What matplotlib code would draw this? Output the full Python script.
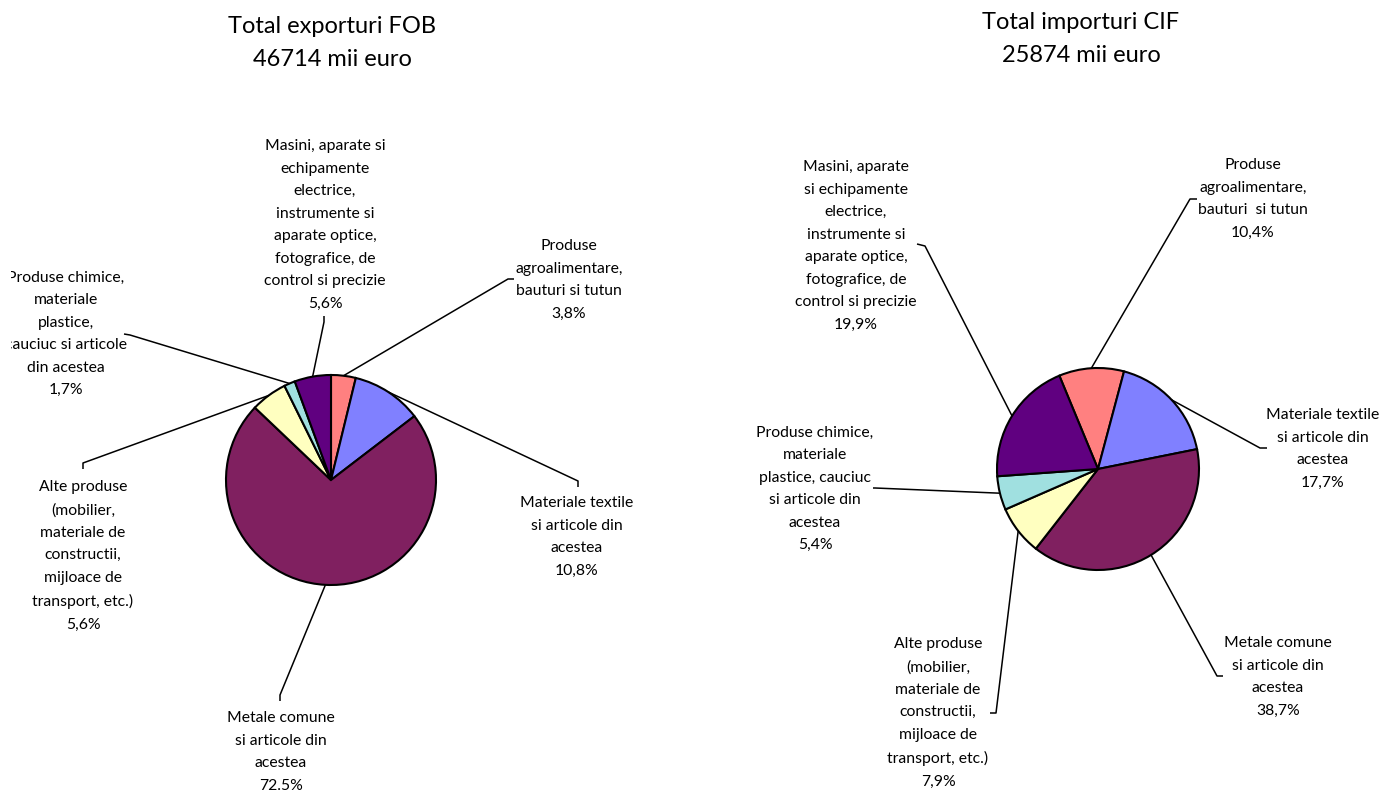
import matplotlib
matplotlib.use("Agg")
import matplotlib.pyplot as plt
import numpy as np

# shares in percent, same order for both pies
categories = ["agro", "textile", "metale", "alte", "chimice", "masini"]
export_share = [3.8, 10.8, 72.5, 5.6, 1.7, 5.6]
import_share = [10.4, 17.7, 38.7, 7.9, 5.4, 19.9]

export_names = [
    "Produse\nagroalimentare,\nbauturi si tutun",
    "Materiale textile\nsi articole din\nacestea",
    "Metale comune\nsi articole din\nacestea",
    "Alte produse\n(mobilier,\nmateriale de\nconstructii,\nmijloace de\ntransport, etc.)",
    "Produse chimice,\nmateriale\nplastice,\ncauciuc si articole\ndin acestea",
    "Masini, aparate si\nechipamente\nelectrice,\ninstrumente si\naparate optice,\nfotografice, de\ncontrol si precizie",
]
import_names = [
    "Produse\nagroalimentare,\nbauturi  si tutun",
    "Materiale textile\nsi articole din\nacestea",
    "Metale comune\nsi articole din\nacestea",
    "Alte produse\n(mobilier,\nmateriale de\nconstructii,\nmijloace de\ntransport, etc.)",
    "Produse chimice,\nmateriale\nplastice, cauciuc\nsi articole din\nacestea",
    "Masini, aparate\nsi echipamente\nelectrice,\ninstrumente si\naparate optice,\nfotografice, de\ncontrol si precizie",
]
export_pct = ["3,8%", "10,8%", "72.5%", "5,6%", "1,7%", "5,6%"]
import_pct = ["10,4%", "17,7%", "38,7%", "7,9%", "5,4%", "19,9%"]

export_title = "Total exporturi FOB\n46714 mii euro"
import_title = "Total importuri CIF\n25874 mii euro"

colors = ["#FF8080", "#8080FF", "#802060", "#FFFFC0", "#A0E0E0", "#600080"]

W, H = 1382, 791
FONT = "Lato"


def Y(y):
    return H - y


fig = plt.figure(figsize=(W / 100, H / 100), dpi=100)
left = 11
ax = fig.add_axes([left / W, 0, (W - left) / W, 1])


def draw_pie(values, names, pcts, center, radius, start, title, title_pos, labels):
    wedges, _ = ax.pie(values, colors=colors, startangle=start, counterclock=False,
                       center=(center[0], Y(center[1])), radius=radius,
                       wedgeprops=dict(edgecolor="black", linewidth=1.5))
    ax.text(title_pos[0], Y(title_pos[1]), title, ha="center", va="center",
            fontsize=17, family=FONT, linespacing=1.66)
    for w, name, pct, lab in zip(wedges, names, pcts, labels):
        tx, ty, elbow, tick = lab
        mid = np.deg2rad((w.theta1 + w.theta2) / 2)
        sx = center[0] + radius * np.cos(mid)
        sy = Y(center[1]) + radius * np.sin(mid)
        xs = [sx, elbow[0], tick[0]]
        ys = [sy, Y(elbow[1]), Y(tick[1])]
        ax.plot(xs, ys, color="black", linewidth=1.1, solid_capstyle="butt")
        ax.text(tx, Y(ty), name + "\n" + pct, ha="center", va="center",
                fontsize=11.3, family=FONT, linespacing=1.77, clip_on=True)


# label centre x, block centre y, elbow, tick end (pixels)
export_labels = [
    (569, 280, (508, 279), (514, 279)),
    (577, 537, (578, 481), (578, 487)),
    (281, 752, (280, 695), (280, 701)),
    (83, 556, (83, 463), (83, 469)),
    (66, 334, (130, 335), (124, 334)),
    (325, 225, (324, 322), (324, 316)),
]
import_labels = [
    (1253, 199, (1190, 199), (1197, 199)),
    (1323, 449, (1260, 448), (1267, 448)),
    (1278, 677, (1217, 676), (1223, 676)),
    (938, 713, (996, 713), (990, 713)),
    (815, 489, (875, 488), (873, 488)),
    (856, 246, (925, 246), (917, 244)),
]

draw_pie(export_share, export_names, export_pct, (331, 480), 105, 90,
         export_title, (332, 43), export_labels)
draw_pie(import_share, import_names, import_pct, (1098, 469), 101, 112.5,
         import_title, (1081, 39), import_labels)

ax.set_xlim(left, W)
ax.set_ylim(0, H)
ax.set_aspect("equal")
ax.axis("off")

fig.savefig("out.png", dpi=100, facecolor="white")
